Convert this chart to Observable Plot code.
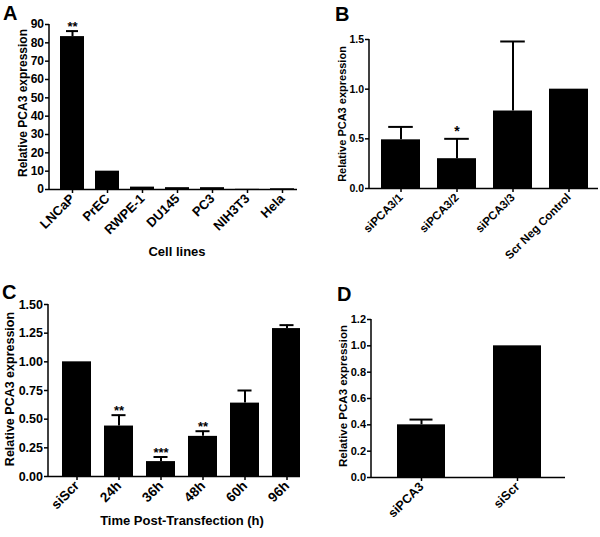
<!DOCTYPE html>
<html><head><meta charset="utf-8">
<script src="https://cdn.jsdelivr.net/npm/d3@7"></script>
<script src="https://cdn.jsdelivr.net/npm/@observablehq/plot@0.6"></script>
<style>
body{margin:0;background:#fff;}
#fig{position:relative;width:600px;height:537px;overflow:hidden;background:#fff;font-family:"Liberation Sans",Arial,sans-serif;font-weight:bold;color:#000;}
.panel{position:absolute;}
.letter{position:absolute;font-size:20px;line-height:1;}
.ytitle{position:absolute;transform:translate(-50%,-50%) rotate(-90deg);white-space:nowrap;line-height:1;}
.xtitle{position:absolute;transform:translate(-50%,0);white-space:nowrap;line-height:1;}
</style></head><body><div id="fig"></div>
<script>
// Panel A
const cellLines = ["LNCaP","PrEC","RWPE-1","DU145","PC3","NIH3T3","Hela"];
const cellValues = [83.4, 10, 1.3, 1.0, 1.0, 0.1, 0.4];
const cellUpper = [86.4, null, null, null, null, null, null];
const cellStars = ["**","","","","","",""];
const cellTicks = [0,10,20,30,40,50,60,70,80,90];
// Panel B
const siRNAs = ["siPCA3/1","siPCA3/2","siPCA3/3","Scr Neg Control"];
const siValues = [0.49, 0.30, 0.78, 1.0];
const siUpper = [0.62, 0.50, 1.48, null];
const siStars = ["","*","",""];
const siTicks = [0, 0.5, 1.0, 1.5];
// Panel C
const times = ["siScr","24h","36h","48h","60h","96h"];
const timeValues = [1.0, 0.44, 0.13, 0.35, 0.64, 1.29];
const timeUpper = [null, 0.535, 0.17, 0.395, 0.75, 1.32];
const timeStars = ["","**","***","**","",""];
const timeTicks = [0, 0.25, 0.5, 0.75, 1.0, 1.25, 1.5];
// Panel D
const groups = ["siPCA3","siScr"];
const groupValues = [0.40, 1.0];
const groupUpper = [0.44, null];
const groupStars = ["",""];
const groupTicks = [0, 0.2, 0.4, 0.6, 0.8, 1.0, 1.2];

const fig = document.getElementById("fig");

function addText(cls, text, css) {
  const d = document.createElement("div");
  d.className = cls;
  d.textContent = text;
  Object.assign(d.style, css);
  fig.appendChild(d);
}

function yAxisLine(top) {
  return (index, scales, values, dims) =>
    d3.create("svg:line")
      .attr("x1", dims.marginLeft).attr("x2", dims.marginLeft)
      .attr("y1", scales.y(top)).attr("y2", scales.y(0))
      .attr("stroke", "#000").attr("stroke-width", 1.5)
      .node();
}

function panel(o) {
  const data = o.names.map((n, i) => ({name: n, value: o.values[i], upper: o.upper[i], star: o.stars[i]}));
  const errData = data.filter(d => d.upper != null);
  const step = (o.xRange[1] - o.xRange[0]) / o.names.length;
  const bw = step * (1 - o.padIn);
  const inset = (bw - o.capWidth) / 2;
  const svg = Plot.plot({
    width: o.width, height: o.height,
    marginLeft: o.marginLeft, marginRight: o.marginRight, marginTop: o.marginTop, marginBottom: o.marginBottom,
    style: {fontFamily: "Liberation Sans, Arial, sans-serif", fontWeight: "bold", fontSize: o.yFont + "px", color: "#000", background: "transparent", overflow: "hidden"},
    x: {type: "band", domain: o.names, range: o.xRange, paddingInner: o.padIn, paddingOuter: o.padIn / 2, align: 0.5},
    y: {domain: o.yDomain},
    marks: [
      Plot.barY(data, {x: "name", y: "value", fill: "#000"}),
      Plot.ruleX(errData, {x: "name", y1: "value", y2: "upper", stroke: "#000", strokeWidth: 2}),
      Plot.tickY(errData, {x: "name", y: "upper", stroke: "#000", strokeWidth: 2, insetLeft: inset, insetRight: inset}),
      Plot.text(data.filter(d => d.star), {x: "name", y: d => d.upper ?? d.value, text: "star", lineAnchor: "bottom", dy: o.starDy, fontSize: o.starSize, fontWeight: "bold", fill: "#000"}),
      Plot.axisY({ticks: o.yTicks, tickFormat: o.yFormat, tickSize: 4, tickPadding: 1.5, label: null, fontWeight: "bold", fontSize: o.yFont, strokeWidth: 1.5}),
      yAxisLine(o.yDomain[1]),
      Plot.ruleY([0], {stroke: "#000", strokeWidth: 1.5}),
      Plot.axisX({tickSize: 4, tickRotate: -45, tickPadding: 3, label: null, fontSize: o.xFont, fontWeight: "bold", strokeWidth: 1.5})
    ]
  });
  svg.classList.add("panel");
  svg.style.left = o.left + "px";
  svg.style.top = o.top + "px";
  fig.appendChild(svg);
}

panel({names: cellLines, values: cellValues, upper: cellUpper, stars: cellStars,
  left: 0, top: 0, width: 300, height: 270,
  marginLeft: 49, marginRight: 3, marginTop: 24, marginBottom: 81,
  xRange: [53.4, 299.9], padIn: 0.32, yDomain: [0, 90], yTicks: cellTicks, yFormat: d3.format("d"),
  yFont: 12, xFont: 13, capWidth: 12, starSize: 13, starDy: 0});

panel({names: siRNAs, values: siValues, upper: siUpper, stars: siStars,
  left: 300, top: 0, width: 300, height: 270,
  marginLeft: 69, marginRight: 2, marginTop: 39, marginBottom: 82,
  xRange: [71.8, 297], padIn: 0.3, yDomain: [0, 1.5], yTicks: siTicks, yFormat: d3.format(".1f"),
  yFont: 10.5, xFont: 11.5, capWidth: 25, starSize: 14, starDy: -3});

panel({names: times, values: timeValues, upper: timeUpper, stars: timeStars,
  left: 0, top: 270, width: 300, height: 267,
  marginLeft: 48, marginRight: 0, marginTop: 34, marginBottom: 61,
  xRange: [52.9, 309.7], padIn: 0.3, yDomain: [0, 1.5], yTicks: timeTicks, yFormat: d3.format(".2f"),
  yFont: 12.5, xFont: 13.5, capWidth: 15, starSize: 13, starDy: 0});

panel({names: groups, values: groupValues, upper: groupUpper, stars: groupStars,
  left: 300, top: 270, width: 300, height: 267,
  marginLeft: 71, marginRight: 35, marginTop: 49, marginBottom: 60,
  xRange: [72.7, 264.7], padIn: 0.5, yDomain: [0, 1.2], yTicks: groupTicks, yFormat: d3.format(".1f"),
  yFont: 11, xFont: 12.5, capWidth: 23, starSize: 13, starDy: 0});

// Panel letters
addText("letter", "A", {left: "3px", top: "3px"});
addText("letter", "B", {left: "335px", top: "4px"});
addText("letter", "C", {left: "2px", top: "282px"});
addText("letter", "D", {left: "337px", top: "284px"});

// Axis titles
addText("ytitle", "Relative PCA3 expression", {left: "23px", top: "103px", fontSize: "12px"});
addText("ytitle", "Relative PCA3 expression", {left: "342px", top: "114px", fontSize: "11px"});
addText("ytitle", "Relative PCA3 expression", {left: "10px", top: "389px", fontSize: "12.5px"});
addText("ytitle", "Relative PCA3 expression", {left: "344px", top: "396px", fontSize: "11.5px"});
addText("xtitle", "Cell lines", {left: "177px", top: "245px", fontSize: "13px"});
addText("xtitle", "Time Post-Transfection (h)", {left: "182px", top: "514px", fontSize: "13px"});
</script>
</body></html>
